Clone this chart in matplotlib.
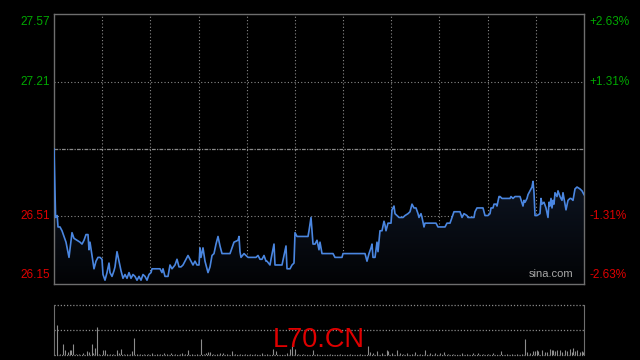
import matplotlib
matplotlib.use("Agg")
import matplotlib.pyplot as plt
import numpy as np
from matplotlib.patches import Polygon
from matplotlib.colors import LinearSegmentedColormap

# quote data
symbol = "L70.CN"
prev_close = 26.86
price_ticks = [27.57, 27.21, 26.51, 26.15]
pct_labels = ["+2.63%", "+1.31%", "-1.31%", "-2.63%"]
session_len = 265

minutes = [0, 0.8, 1.6, 2, 3, 4, 5, 6, 7.5, 9, 10, 11.5, 13, 14, 15, 16, 17, 17.5,
           18, 19, 20, 21, 22, 23, 24, 24.5, 25.5, 26.5, 27.5, 28, 29, 30, 30.5,
           31.5, 32.5, 33.5, 34.5, 35.5, 36.5, 37.5, 38.5, 39.5, 40.5, 41.5, 42.5,
           43.5, 44.5, 45.5, 46.5, 47.5, 48.5, 49, 53, 54, 54.5, 55.5, 57, 58, 59,
           60.5, 61.5, 62.5, 63.5, 64.5, 66, 67, 68,
           68.5, 69.5, 70.5, 71.5, 72.5, 73, 73.5, 74.5, 75.5, 76.5, 77, 78, 79, 80,
           81, 82, 83, 84, 88, 89, 90, 92, 92.5, 93, 93.5, 95, 96, 97, 101, 102,
           103, 104, 105, 106, 106.5, 108, 108.5, 110, 110.5, 114, 115, 116, 116.5,
           118, 119, 120, 120.5, 121.5, 127, 127.5, 128.5, 129.5, 130.5, 131.5,
           132.5, 133, 134, 139.5, 140.5, 144, 144.5, 155.5, 156.5, 157.5, 158.5,
           159, 159.5, 160.5, 161.5, 162, 163, 164, 165, 165.5, 166, 167, 168.5,
           169, 170, 170.5, 171.5, 172.5, 173.5, 174.5, 175.5, 177, 178, 179, 180,
           181, 182, 182.5, 183.5, 184, 185, 185.5, 191, 192, 195.5, 196.5, 198,
           199, 200, 203, 204, 205, 206.5, 207, 210, 210.5, 211.5, 214.5, 215,
           215.5, 217, 218, 218.5, 219.5, 220, 221, 221.5, 222.5, 223, 224, 228,
           228.5, 229.5, 230.5, 233, 234.5, 235, 235.5, 236.5, 237, 238, 239, 239.5,
           240, 240.5, 241.5, 243, 243.5, 244, 245, 246, 247, 247.5, 248, 248.5,
           249, 249.5, 250, 250.5, 251.5, 252, 253, 253.5, 254, 254.5, 255, 256,
           257, 258, 258.5, 259.5, 260.5, 261.5, 263, 264, 265]

prices = [26.86, 26.50, 26.51, 26.45, 26.45, 26.43, 26.40, 26.37, 26.29, 26.42, 26.39,
          26.38, 26.37, 26.36, 26.38, 26.41, 26.41, 26.33, 26.37, 26.30, 26.23, 26.27,
          26.29, 26.29, 26.28, 26.20, 26.17, 26.21, 26.26, 26.21, 26.19, 26.22, 26.24,
          26.32, 26.27, 26.22, 26.18, 26.20, 26.18, 26.21, 26.18, 26.20, 26.19, 26.17,
          26.19, 26.17, 26.20, 26.19, 26.17, 26.20, 26.21, 26.23, 26.23, 26.21, 26.23,
          26.19, 26.19, 26.25, 26.23, 26.25, 26.28, 26.24, 26.24, 26.25, 26.28, 26.30,
          26.28,
          26.27, 26.25, 26.27, 26.25, 26.25, 26.34, 26.29, 26.34, 26.27, 26.23, 26.21,
          26.24, 26.30, 26.31, 26.36, 26.40, 26.35, 26.31, 26.31, 26.34, 26.37, 26.38,
          26.40, 26.32, 26.29, 26.31, 26.30, 26.29, 26.29, 26.30, 26.28, 26.28, 26.30,
          26.27, 26.27, 26.25, 26.28, 26.36, 26.25, 26.25, 26.30, 26.35, 26.23, 26.23,
          26.25, 26.26, 26.42, 26.40, 26.40, 26.43, 26.50, 26.36, 26.36, 26.38, 26.33,
          26.37, 26.31, 26.31, 26.29, 26.29, 26.31, 26.31, 26.27, 26.31, 26.34, 26.36,
          26.29, 26.29, 26.37, 26.32, 26.43, 26.43, 26.48, 26.46, 26.43, 26.47, 26.47,
          26.54, 26.56, 26.52, 26.51, 26.50, 26.50, 26.50, 26.51, 26.52, 26.53, 26.57,
          26.55, 26.55, 26.52, 26.50, 26.52, 26.50, 26.45, 26.47, 26.47, 26.45, 26.45,
          26.47, 26.47, 26.50, 26.53, 26.53, 26.50, 26.52, 26.51, 26.50, 26.50, 26.53,
          26.55, 26.55, 26.53, 26.51, 26.51, 26.52, 26.55, 26.55, 26.57, 26.57, 26.56,
          26.61, 26.61, 26.60, 26.60, 26.61, 26.60, 26.61, 26.61, 26.56, 26.59, 26.58,
          26.60, 26.62, 26.64, 26.66, 26.69, 26.63, 26.51, 26.51, 26.52, 26.60, 26.57,
          26.58, 26.55, 26.50, 26.58, 26.56, 26.60, 26.55, 26.59, 26.57, 26.63, 26.61,
          26.64, 26.61, 26.60, 26.59, 26.63, 26.60, 26.54, 26.59, 26.60, 26.60, 26.59,
          26.65, 26.66, 26.65, 26.64, 26.62]

vol_minutes = [1.7, 3, 4.7, 5.7, 7, 8, 8.7, 9.7, 11, 12.7, 14.7, 16.3, 17.7, 19, 19.7,
               20.7, 21.7, 22.7, 24.7, 25.7, 26.7, 28, 29.7, 31.3, 32.3, 33.7, 35, 36.3,
               38, 39.2, 40.2, 41.3, 43, 45, 47.2, 48.8, 51.3, 53, 55.2, 56.3, 58.5,
               60.5, 63, 64.2, 65.5, 67.2, 68.8, 71.3, 73.7, 75, 76, 77.2, 78, 79.7,
               81.3, 83, 84.7, 86.3, 89.2, 90.5, 93, 95.5, 98, 100.5, 103.8, 106.3,
               109.7, 111, 116.3, 118, 119, 120.5, 122.2, 124.7, 129.7, 131.3, 138,
               143, 148, 153, 157.2, 158, 159.7, 161.7, 163.8, 166.3, 167.2, 168.8,
               171.3, 173, 174.7, 176.7, 178.8, 180.5, 183, 185.7, 188, 190.5, 193,
               195, 197.2, 199.7, 203.8, 206.3, 209.7, 212.2, 214.7, 217.2, 219.7,
               223.5, 226.3, 228.8, 231.3, 233.8, 235.7, 236.7, 238, 239.3, 240.5,
               241.3, 242.2, 243.8, 245.5, 246.3, 248, 248.8, 249.7, 250.5, 251.3,
               253, 253.8, 255.5, 256.3, 258, 258.8, 259.7, 260.5, 261.3, 263, 263.8,
               264.7]

volumes = [3000, 130, 1130, 470, 300, 470, 470, 1130, 130, 130, 200, 370, 300, 1070, 200,
           730, 2800, 130, 470, 470, 130, 130, 130, 470, 200, 630, 130, 130,
           130, 370, 1730, 130, 130, 130, 130, 230, 130, 130, 230, 130, 230,
           130, 130, 200, 130, 470, 130, 130, 1630, 130, 200, 270, 270, 130,
           130, 200, 200, 130, 370, 130, 130, 130, 130, 130, 200, 130,
           630, 370, 230, 630, 870, 630, 130, 130, 470, 130, 130,
           130, 130, 130, 870, 300, 200, 370, 200, 470, 400, 200,
           470, 200, 130, 200, 130, 270, 130, 470, 200, 200, 200,
           270, 130, 130, 200, 130, 200, 200, 130, 130, 200,
           370, 130, 130, 130, 130, 1630, 270, 200, 370, 400,
           530, 370, 470, 270, 300, 570, 470, 530, 370, 530,
           470, 300, 530, 370, 570, 300, 730, 370, 470, 270, 370,
           270]

GREEN = "#00a800"
RED = "#e00000"
GRID = "#8a8a8a"
FRAME = "#6e6e6e"


def price_panel(fig):
    ax = fig.add_axes([54 / 640, 1 - 284 / 360, 530 / 640, 270 / 360])
    ax.set_facecolor("black")
    ax.set_xlim(0, session_len)
    ax.set_ylim(price_ticks[-1], price_ticks[0])

    for s in ax.spines.values():
        s.set_color(FRAME)
        s.set_linewidth(1.0)
    ax.set_xticks([])
    ax.set_yticks([])

    # dotted grid
    for k in range(1, 11):
        ax.axvline(session_len * k / 11, color=GRID, lw=0.8, ls=(0, (1, 2)), zorder=1)
    for p in price_ticks[1:3]:
        ax.axhline(p, color=GRID, lw=0.8, ls=(0, (1, 2)), zorder=1)
    ax.axhline(prev_close, color=GRID, lw=0.9, ls=(0, (3, 1, 1, 1)), zorder=1)

    # gradient under the line
    t = np.array(minutes)
    p = np.array(prices)
    verts = np.vstack([np.column_stack([t, p]),
                       [[t[-1], price_ticks[-1]], [t[0], price_ticks[-1]]]])
    poly = Polygon(verts, closed=True, facecolor="none", edgecolor="none")
    ax.add_patch(poly)
    cmap = LinearSegmentedColormap.from_list("fade", ["#020305", "#111a2a"])
    grad = np.linspace(0, 1, 256).reshape(-1, 1)
    im = ax.imshow(grad, cmap=cmap, origin="lower", aspect="auto",
                   extent=(0, session_len, price_ticks[-1], p.max()), zorder=2)
    im.set_clip_path(poly)

    ax.plot(t, p, color="#4a86e0", lw=1.2, zorder=3)

    # axis labels on both sides
    trans_l = ax.get_yaxis_transform()
    for i, (val, pct) in enumerate(zip(price_ticks, pct_labels)):
        col = GREEN if val > prev_close else RED
        va = "center"
        dy = 0
        if i == 0:
            va, dy = "top", -1.5
        elif i == len(price_ticks) - 1:
            va, dy = "bottom", 2
        ax.annotate(f"{val:.2f}", (0, val), xycoords=trans_l, xytext=(-3, dy),
                    textcoords="offset points", ha="right", va=va, color=col,
                    fontsize=8.5, family="Liberation Sans")
        ax.annotate(pct, (1, val), xycoords=trans_l, xytext=(4, dy),
                    textcoords="offset points", ha="left", va=va, color=col,
                    fontsize=8.5, family="Liberation Sans")

    ax.text(0.938, 0.018, "sina.com", transform=ax.transAxes, ha="center",
            va="bottom", color="#a8a8a8", fontsize=8, family="Liberation Sans",
            zorder=4)
    return ax


def volume_panel(fig):
    ax = fig.add_axes([54 / 640, 1 - 355 / 360, 530 / 640, 50 / 360])
    ax.set_facecolor("black")
    ax.set_xlim(0, session_len)
    ax.set_ylim(0, 5000)
    ax.set_xticks([])
    ax.set_yticks([])
    for name in ("left", "right"):
        ax.spines[name].set_color(FRAME)
    for name in ("top", "bottom"):
        ax.spines[name].set_visible(False)
    ax.axhline(5000, color=GRID, lw=0.9, ls=(0, (1, 1.5)), clip_on=False)
    ax.axhline(2500, color=GRID, lw=0.9, ls=(0, (1, 1.5)))
    ax.axhline(0, color=GRID, lw=0.9, ls=(0, (1, 1)), clip_on=False)
    ax.vlines(vol_minutes, 0, volumes, color="#8c8c8c", lw=0.8)
    return ax


def main():
    fig = plt.figure(figsize=(6.4, 3.6), dpi=100, facecolor="black")
    price_panel(fig)
    volume_panel(fig)
    fig.text(319 / 640, 1 - 340 / 360, symbol, ha="center", va="center",
             color=RED, fontsize=19.5, family="Liberation Sans")
    fig.savefig("out.png", dpi=100, facecolor="black")


if __name__ == "__main__":
    main()
